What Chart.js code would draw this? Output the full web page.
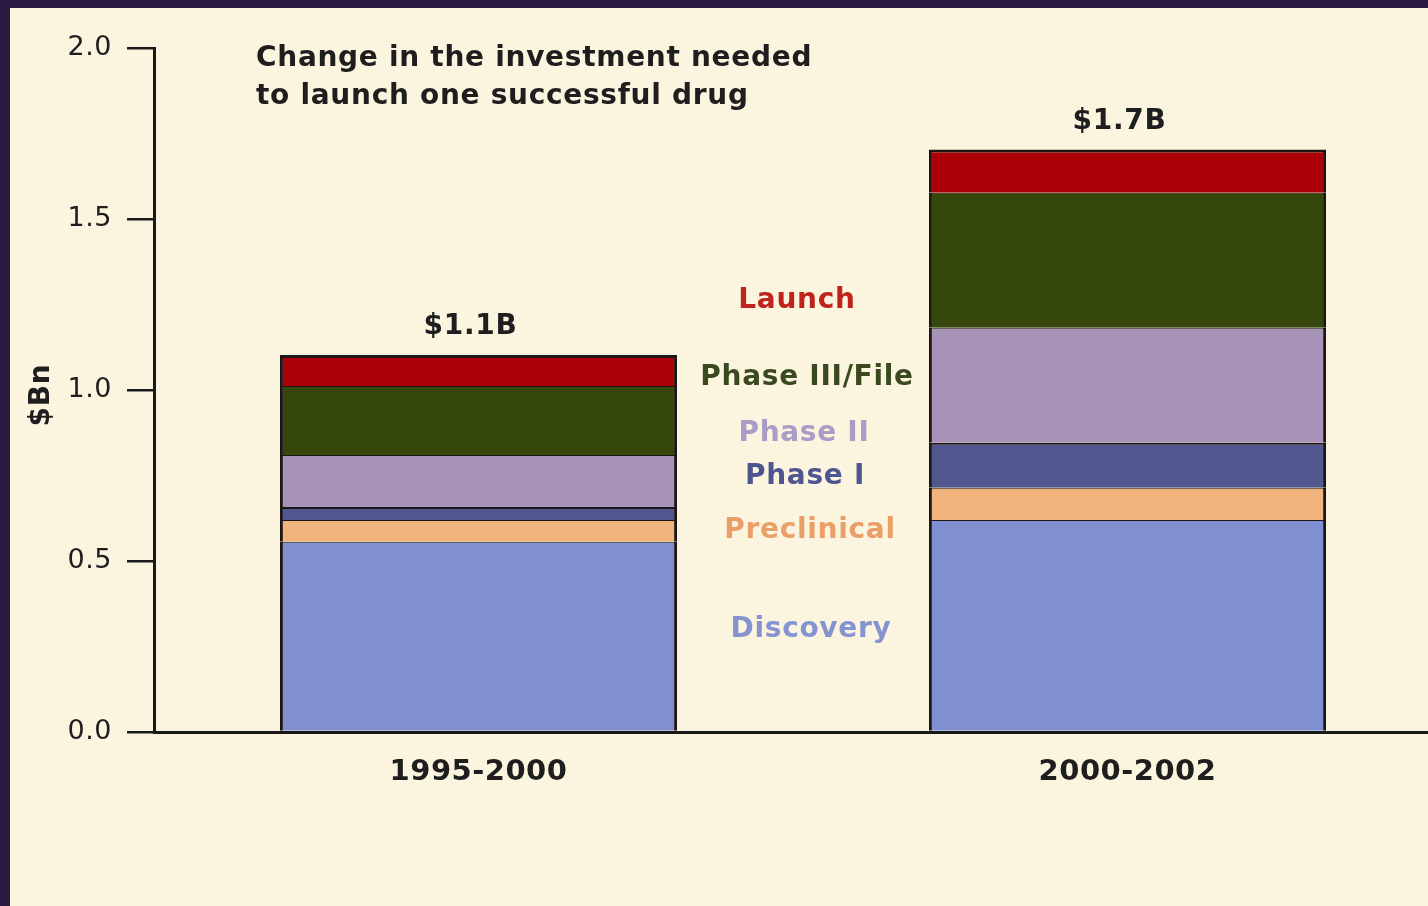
<!DOCTYPE html>
<html>
<head>
<meta charset="utf-8">
<script src="https://cdn.jsdelivr.net/npm/chart.js@4.4.1/dist/chart.umd.min.js"></script>
<style>
  html, body { margin: 0; padding: 0; width: 1428px; height: 906px; overflow: hidden; background: #2a1b42; }
  #wrap { position: absolute; left: 10px; top: 8px; width: 1442px; height: 898px; background: #fbf4df; }
</style>
</head>
<body>
<div id="wrap"><canvas id="drug-chart" width="1442" height="898"></canvas></div>
<script>
const categories = ["1995-2000", "2000-2002"];
const discovery = [0.556, 0.62];
const preclinical = [0.064, 0.094];
const phase1 = [0.038, 0.132];
const phase2 = [0.152, 0.336];
const phase3 = [0.202, 0.395];
const launch = [0.09, 0.126];
const totalLabels = ["$1.1B", "$1.7B"];
const yTicks = [0, 0.5, 1.0, 1.5, 2.0];
const seriesNames = ["Discovery", "Preclinical", "Phase I", "Phase II", "Phase III/File", "Launch"];

const FONT = "'DejaVu Sans', Verdana, sans-serif";
const edge = "#1c1616";
function seg(label, data, color, top) {
  return {
    label: label,
    data: data,
    backgroundColor: color,
    borderColor: edge,
    borderWidth: { top: top, left: 3, right: 3, bottom: 0 },
    borderSkipped: false,
  };
}

// text labels drawn on top of the chart
const notes = {
  id: "notes",
  beforeDraw(chart) {
    chart.ctx.letterSpacing = "0.5px";
  },
  afterDraw(chart) {
    const ctx = chart.ctx;
    const x = chart.scales.x;
    ctx.save();
    ctx.letterSpacing = "0.7px";
    ctx.font = "bold 28px " + FONT;
    ctx.fillStyle = "#1e1e1e";
    ctx.textAlign = "left";
    ctx.textBaseline = "middle";
    ctx.fillText("Change in the investment needed", 246, 51);
    ctx.fillText("to launch one successful drug", 246, 89);

    // totals above the bars
    ctx.textAlign = "center";
    const last = chart.getDatasetMeta(chart.data.datasets.length - 1);
    last.data.forEach((bar, i) => {
      ctx.fillText(totalLabels[i], bar.x - 8, bar.y - 28);
    });

    // series names between the bars
    const mid = (x.getPixelForValue(0) + x.getPixelForValue(1)) / 2;
    const names = [
      ["Launch", "#c0221c", -6, 293],
      ["Phase III/File", "#3b4a1e", 4, 370],
      ["Phase II", "#a99cc6", 1, 426],
      ["Phase I", "#4e5590", 2, 469],
      ["Preclinical", "#eb9f68", 7, 523],
      ["Discovery", "#8593d0", 8, 622],
    ];
    names.forEach(n => {
      ctx.fillStyle = n[1];
      ctx.fillText(n[0], mid + n[2], n[3]);
    });

    // axis title
    ctx.fillStyle = "#1e1e1e";
    ctx.translate(32, 387);
    ctx.rotate(-Math.PI / 2);
    ctx.fillText("$Bn", 0, 0);
    ctx.restore();
  },
};

new Chart(document.getElementById("drug-chart"), {
  type: "bar",
  data: {
    labels: categories,
    datasets: [
      seg(seriesNames[0], discovery, "#7f8fcf", 1),
      seg(seriesNames[1], preclinical, "#f1b47c", 1),
      seg(seriesNames[2], phase1, "#52588f", 2),
      seg(seriesNames[3], phase2, "#a793b8", 1),
      seg(seriesNames[4], phase3, "#36470c", 1),
      seg(seriesNames[5], launch, "#ad0008", 3),
    ],
  },
  options: {
    responsive: false,
    animation: false,
    layout: { padding: { top: 40, right: 0, left: 0, bottom: 0 } },
    plugins: {
      legend: { display: false },
      tooltip: { enabled: false },
    },
    datasets: {
      bar: { categoryPercentage: 1, barPercentage: 0.612 },
    },
    scales: {
      x: {
        stacked: true,
        afterFit(scale) { scale.height = 174; },
        grid: { display: true, drawOnChartArea: false, drawTicks: false },
        border: { display: true, color: "#1a1a1a", width: 3 },
        ticks: {
          padding: 23,
          color: "#1e1e1e",
          font: { family: FONT, size: 29, weight: "bold" },
        },
      },
      y: {
        stacked: true,
        min: 0,
        max: 2,
        afterFit(scale) { scale.width = 144; },
        afterBuildTicks(scale) { scale.ticks = yTicks.map(v => ({ value: v })); },
        grid: { drawOnChartArea: false, drawTicks: true, tickLength: 27, color: "#1a1a1a", lineWidth: 2.5 },
        border: { display: true, color: "#1a1a1a", width: 3 },
        ticks: {
          padding: 15,
          color: "#1e1e1e",
          font: { family: FONT, size: 27 },
          callback: v => Number(v).toFixed(1),
        },
      },
    },
  },
  plugins: [notes],
});
</script>
</body>
</html>
